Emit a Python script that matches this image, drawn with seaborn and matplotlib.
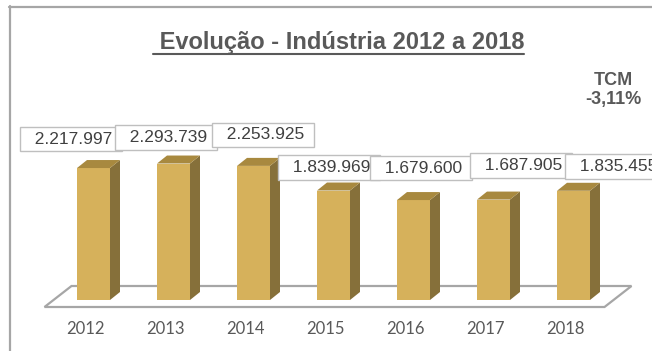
import matplotlib
matplotlib.use("Agg")
import matplotlib.pyplot as plt
from matplotlib.patches import Polygon
from matplotlib.lines import Line2D
import numpy as np
import pandas as pd
import seaborn as sns

# ---- data ----
years = ["2012", "2013", "2014", "2015", "2016", "2017", "2018"]
values = [2217997, 2293739, 2253925, 1839969, 1679600, 1687905, 1835455]
value_labels = ["2.217.997", "2.293.739", "2.253.925", "1.839.969",
                "1.679.600", "1.687.905", "1.835.455"]
title = " Evolução - Indústria 2012 a 2018"
tcm_label = "TCM\n-3,11%"

# ---- layout (pixel offsets of the hand-placed Excel data labels) ----
label_dx = [-68.5, -53.5, -36.5, -50.5, -38.5, -18.5, -3.5]
label_dy = [29, 26, 31, 23, 32, 34, 24]

FRONT = "#D6B15B"
TOP = "#A8893F"
SIDE = "#86703A"
GRAY = "#595959"
W, H, DPI = 652, 351, 100

sns.set_theme(style="white")
plt.rcParams["font.family"] = ["Liberation Sans", "DejaVu Sans"]

df = pd.DataFrame({"year": years, "value": values})

fig = plt.figure(figsize=(W / DPI, H / DPI), dpi=DPI)
ax = fig.add_axes([0, 0, 1, 1])
sns.barplot(data=df, x="year", y="value", color=FRONT, width=0.4125,
            saturation=1, ax=ax, zorder=2)
for p in ax.patches:
    p.set_edgecolor("none")
    p.set_zorder(2)

px_per_cat = 80.0
px_per_val = 59.5e-6
ax.set_xlim(-93.5 / px_per_cat, (W - 93.5) / px_per_cat)
ax.set_ylim(-51 / px_per_val, (H - 51) / px_per_val)
ax.axis("off")

inv = ax.transData.inverted()
o = ax.transData.transform((0, 0))


def off(dxp, dyp):
    d = inv.transform(o + np.array([dxp, dyp]))
    return d[0], d[1]


# floor (3D base plane)
n = len(years)
fx0, fx1 = -0.5, n - 0.5
fdx, fdy = off(-9, -7)
bdx, bdy = off(18, 14)
floor = Polygon([(fx0 + fdx, fdy), (fx1 + fdx, fdy), (fx1 + bdx, bdy), (fx0 + bdx, bdy)],
                closed=True, facecolor="white", edgecolor="#A6A6A6", lw=1.6, zorder=1)
ax.add_patch(floor)

# 3D side and top faces of bars
ddx, ddy = off(10, 8)
for p in list(ax.patches):
    if p is floor:
        continue
    x0, w, h = p.get_x(), p.get_width(), p.get_height()
    side = Polygon([(x0 + w, 0), (x0 + w + ddx, ddy), (x0 + w + ddx, h + ddy), (x0 + w, h)],
                   closed=True, facecolor=SIDE, edgecolor="none", zorder=2)
    top = Polygon([(x0, h), (x0 + w, h), (x0 + w + ddx, h + ddy), (x0 + ddx, h + ddy)],
                  closed=True, facecolor=TOP, edgecolor="none", zorder=2)
    ax.add_patch(side)
    ax.add_patch(top)

# data labels in boxes
for i, (v, lab) in enumerate(zip(values, value_labels)):
    ax.annotate("  " + lab + " ", xy=(i, v), xytext=(label_dx[i], label_dy[i]),
                textcoords="offset pixels", ha="left", va="center",
                fontsize=12.5, color="#404040", zorder=5 + i,
                bbox=dict(boxstyle="square,pad=0.28", facecolor="white",
                          edgecolor="#BFBFBF", lw=1.0))

# category labels
for i, y in enumerate(years):
    ax.annotate(y, xy=(i, 0), xytext=(-8, -29.5), textcoords="offset pixels",
                ha="center", va="center", fontsize=12, color=GRAY,
                family=["Lato", "Liberation Sans"])

# title with underline
t = fig.text(338.5 / W, 1 - 49 / H, title, ha="center", va="baseline",
             fontsize=17, fontweight="bold", color=GRAY)
fig.canvas.draw()
bb = t.get_window_extent()
fig.add_artist(Line2D([bb.x0 / W, bb.x1 / W], [1 - 53.5 / H, 1 - 53.5 / H],
                      transform=fig.transFigure, color=GRAY, lw=1.5))

# TCM annotation
fig.text(613 / W, 1 - 90 / H, tcm_label, ha="center", va="center",
         fontsize=13, fontweight="bold", color=GRAY, linespacing=1.1)

# outer chart-area border (extends past right/bottom edges)
fig.add_artist(Line2D([9 / W, 1.0], [1 - 7 / H, 1 - 7 / H], transform=fig.transFigure,
                      color="#A6A6A6", lw=1.6))
fig.add_artist(Line2D([10 / W, 10 / W], [0.0, 1 - 6 / H], transform=fig.transFigure,
                      color="#A6A6A6", lw=1.6))

fig.savefig("out.png", dpi=DPI)
